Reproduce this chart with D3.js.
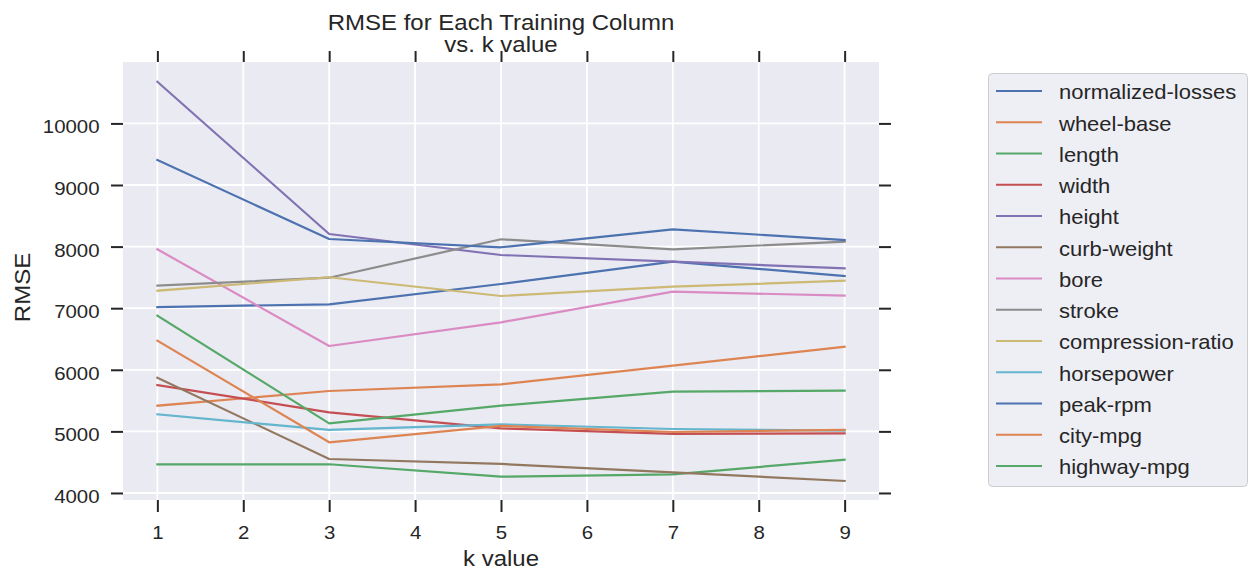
<!DOCTYPE html>
<html>
<head>
<meta charset="utf-8">
<script src="https://cdn.jsdelivr.net/npm/d3@7"></script>
<style>
  html, body { margin: 0; padding: 0; background: #ffffff; }
  svg { display: block; font-family: "Liberation Sans", Arial, sans-serif; }
  .tick line { stroke: #262626; stroke-width: 2; }
  .tick text { fill: #262626; }
</style>
</head>
<body>
<div id="chart"></div>
<script>
const kValues = [1, 3, 5, 7, 9];
const xTicks = [1, 2, 3, 4, 5, 6, 7, 8, 9];
const yTicks = [4000, 5000, 6000, 7000, 8000, 9000, 10000];

const columns = [
  "normalized-losses", "wheel-base", "length", "width", "height", "curb-weight",
  "bore", "stroke", "compression-ratio", "horsepower", "peak-rpm", "city-mpg", "highway-mpg"
];

const normalizedLosses = [7019, 7063, 7393, 7755, 7523];
const wheelBase = [5417, 5656, 5764, 6067, 6375];
const lengthRmse = [4466, 4466, 4265, 4303, 4541];
const widthRmse = [5753, 5310, 5050, 4958, 4969];
const heightRmse = [10677, 8205, 7864, 7755, 7648];
const curbWeight = [5872, 4552, 4471, 4336, 4195];
const bore = [7956, 6386, 6771, 7268, 7203];
const stroke = [7365, 7495, 8119, 7956, 8080];
const compressionRatio = [7284, 7502, 7198, 7349, 7446];
const horsepower = [5277, 5023, 5115, 5039, 5011];
const peakRpm = [9406, 8123, 7989, 8281, 8107];
const cityMpg = [6472, 4823, 5090, 4990, 5025];
const highwayMpg = [6878, 5131, 5417, 5644, 5661];

const seriesValues = [
  normalizedLosses, wheelBase, lengthRmse, widthRmse, heightRmse, curbWeight,
  bore, stroke, compressionRatio, horsepower, peakRpm, cityMpg, highwayMpg
];

const palette = ["#4C72B0", "#DD8452", "#55A868", "#C44E52", "#8172B3", "#937860",
  "#DA8BC3", "#8C8C8C", "#CCB974", "#64B5CD"];

const width = 1252, height = 570;
const plot = { left: 123, right: 879, top: 62, bottom: 500 };
const squash = 0.89; // glyphs in the picture are a bit flatter than the font

const svg = d3.select("#chart").append("svg")
  .attr("width", width)
  .attr("height", height);

const x = d3.scaleLinear().domain([0.6, 9.4]).range([plot.left, plot.right]);
const y = d3.scaleLinear().domain([3886, 10997]).range([plot.bottom, plot.top]);

function label(sel, tx, ty, txt, size, anchor, rotate = 0) {
  return sel.append("text")
    .attr("transform", `translate(${tx},${ty}) rotate(${rotate}) scale(1,${squash})`)
    .attr("text-anchor", anchor)
    .attr("font-size", size)
    .attr("fill", "#262626")
    .text(txt);
}

// background + grid
svg.append("rect")
  .attr("x", plot.left).attr("y", plot.top)
  .attr("width", plot.right - plot.left).attr("height", plot.bottom - plot.top)
  .attr("fill", "#EAEAF2");

const grid = svg.append("g").attr("stroke", "#ffffff").attr("stroke-width", 1.8);
grid.selectAll(".gx").data(xTicks).join("line")
  .attr("x1", d => x(d)).attr("x2", d => x(d))
  .attr("y1", plot.top).attr("y2", plot.bottom);
grid.selectAll(".gy").data(yTicks).join("line")
  .attr("x1", plot.left).attr("x2", plot.right)
  .attr("y1", d => y(d)).attr("y2", d => y(d));

// axes (ticks on all four sides, labels only bottom and left)
const bottomAxis = svg.append("g")
  .attr("transform", `translate(0,${plot.bottom})`)
  .call(d3.axisBottom(x).tickValues(xTicks).tickSize(12).tickFormat(d3.format("d")));
bottomAxis.selectAll("text")
  .attr("y", null).attr("dy", null)
  .attr("font-size", 20.4)
  .attr("transform", `translate(0,38.5) scale(1,${squash})`);

const leftAxis = svg.append("g")
  .attr("transform", `translate(${plot.left},0)`)
  .call(d3.axisLeft(y).tickValues(yTicks).tickSize(12).tickFormat(d3.format("d")));
leftAxis.selectAll("text")
  .attr("x", null).attr("dy", null)
  .attr("font-size", 20.4)
  .attr("transform", `translate(-23.5,9.5) scale(1,${squash})`);

svg.append("g")
  .attr("transform", `translate(0,${plot.top})`)
  .call(d3.axisTop(x).tickValues(xTicks).tickSize(11).tickFormat(""));
svg.append("g")
  .attr("transform", `translate(${plot.right},0)`)
  .call(d3.axisRight(y).tickValues(yTicks).tickSize(12).tickFormat(""));

svg.selectAll(".domain").remove();

// lines
const line = d3.line()
  .x((d, i) => x(kValues[i]))
  .y(d => y(d));

svg.append("g")
  .selectAll("path")
  .data(seriesValues)
  .join("path")
  .attr("d", d => line(d))
  .attr("fill", "none")
  .attr("stroke", (d, i) => palette[i % palette.length])
  .attr("stroke-width", 2.2)
  .attr("stroke-linejoin", "round")
  .attr("stroke-linecap", "square");

// titles
label(svg, 501, 30, "RMSE for Each Training Column", 24, "middle");
label(svg, 501, 52, "vs. k value", 24, "middle");
label(svg, 501, 566, "k value", 24, "middle");
label(svg, 30, 287.5, "RMSE", 24, "middle", -90);

// legend
const legend = svg.append("g");
legend.append("rect")
  .attr("x", 988.5).attr("y", 73.5)
  .attr("width", 259).attr("height", 413)
  .attr("rx", 4)
  .attr("fill", "#EEEEF5")
  .attr("stroke", "#cccccc")
  .attr("stroke-width", 1);

const rowY = i => 91 + i * 31.25;
const items = legend.selectAll("g.item").data(columns).join("g").attr("class", "item");
items.append("line")
  .attr("x1", 996).attr("x2", 1042)
  .attr("y1", (d, i) => rowY(i)).attr("y2", (d, i) => rowY(i))
  .attr("stroke", (d, i) => palette[i % palette.length])
  .attr("stroke-width", 2.2);
items.each(function (d, i) {
  label(d3.select(this), 1059, rowY(i) + 8.3, d, 22, "start");
});
</script>
</body>
</html>
